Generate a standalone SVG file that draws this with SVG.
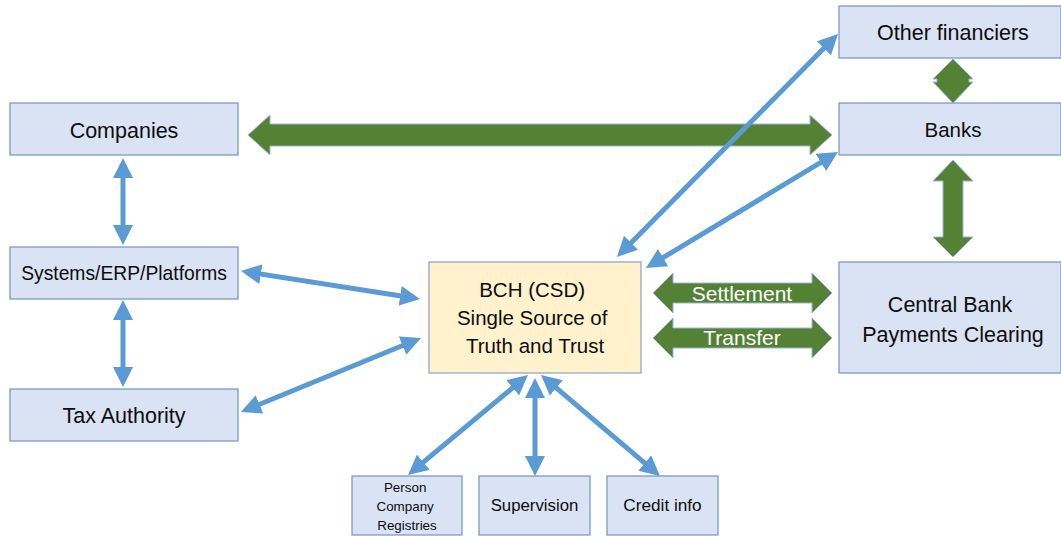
<svg xmlns="http://www.w3.org/2000/svg" width="1061" height="536" viewBox="0 0 1061 536">
  <style>
    .box { fill: #dae3f3; stroke: #7393c4; stroke-width: 1.2; }
    .core { fill: #fff2cc; stroke: #8a9fbe; stroke-width: 1.2; }
    .lbl { font-family: "Liberation Sans", Arial, sans-serif; fill: #0d0d0d; text-anchor: middle; }
    .flow { fill: #548235; stroke: #9fb4d6; stroke-width: 1; }
    .flowtxt { font-family: "Liberation Sans", Arial, sans-serif; fill: #ffffff; text-anchor: middle; font-size: 21px; }
    .link { stroke: #5b9bd5; stroke-width: 5; fill: none; marker-start: url(#tip); marker-end: url(#tip); }
  </style>
  <defs>
    <marker id="tip" viewBox="0 0 10 10" refX="7" refY="5" markerWidth="4" markerHeight="4" orient="auto-start-reverse">
      <path d="M0,0 L10,5 L0,10 z" fill="#5b9bd5"/>
    </marker>
  </defs>
  <rect width="1061" height="536" fill="#ffffff"/>

  <!-- connectors -->
  <g id="connectors">
    <!-- green flows -->
    <polygon class="flow" points="248,135 270,115 270,124 810,124 810,115 832,135 810,155 810,146 270,146 270,155"/>
    <polygon class="flow" points="953,59 973,79 969,79 969,82 973,82 953,103 933,82 937,82 937,79 933,79"/>
    <polygon class="flow" points="953,160 973,181 963,181 963,237 973,237 953,257 933,237 943,237 943,181 933,181"/>
    <polygon class="flow" points="653,293 673,273 673,283 812,283 812,273 832,293 812,313 812,303 673,303 673,313"/>
    <text class="flowtxt" x="742" y="301" font-size="22">Settlement</text>
    <polygon class="flow" points="653,338 673,318 673,328 812,328 812,318 832,338 812,358 812,348 673,348 673,358"/>
    <text class="flowtxt" x="742" y="345">Transfer</text>

    <!-- blue data links -->
    <line class="link" x1="123" y1="164" x2="123" y2="239"/>
    <line class="link" x1="123" y1="306" x2="123" y2="381"/>
    <line class="link" x1="247" y1="272" x2="414" y2="298"/>
    <line class="link" x1="246.5" y1="409.7" x2="415.5" y2="340.3"/>
    <line class="link" x1="621.2" y1="252.7" x2="833.8" y2="38.3"/>
    <line class="link" x1="651.1" y1="264.9" x2="832.9" y2="155.1"/>
    <line class="link" x1="523.4" y1="378.8" x2="412.6" y2="471.2"/>
    <line class="link" x1="535" y1="384" x2="535" y2="470"/>
    <line class="link" x1="545.6" y1="378.9" x2="655.4" y2="472.1"/>
  </g>

  <g id="companies">
    <rect class="box" x="10" y="103" width="228" height="52"/>
    <text class="lbl" x="124" y="138" font-size="21.5">Companies</text>
  </g>
  <g id="systems">
    <rect class="box" x="10" y="247" width="228" height="52"/>
    <text class="lbl" x="124" y="280" font-size="19.3">Systems/ERP/Platforms</text>
  </g>
  <g id="tax">
    <rect class="box" x="10" y="389" width="228" height="52"/>
    <text class="lbl" x="124" y="423" font-size="21.5">Tax Authority</text>
  </g>
  <g id="bch">
    <rect class="core" x="429" y="262" width="212" height="111"/>
    <text class="lbl" font-size="20.5">
      <tspan x="535" y="297">BCH (CSD)</tspan>
      <tspan x="535" y="325">Single Source of</tspan>
      <tspan x="535" y="353">Truth and Trust</tspan>
    </text>
  </g>
  <g id="other-financiers">
    <rect class="box" x="839" y="6" width="222" height="52"/>
    <text class="lbl" x="953" y="40" font-size="21.5">Other financiers</text>
  </g>
  <g id="banks">
    <rect class="box" x="839" y="103" width="222" height="52"/>
    <text class="lbl" x="953" y="137" font-size="20.5">Banks</text>
  </g>
  <g id="central-bank">
    <rect class="box" x="839" y="262" width="222" height="111"/>
    <text class="lbl" font-size="21.5">
      <tspan x="953" y="312">Central Bank</tspan>
      <tspan x="953" y="342">Payments Clearing</tspan>
    </text>
  </g>
  <g id="registries">
    <rect class="box" x="352" y="476" width="110" height="59"/>
    <text class="lbl" font-size="13.4">
      <tspan x="407" y="492">Person</tspan>
      <tspan x="407" y="511">Company</tspan>
      <tspan x="407" y="530">Registries</tspan>
    </text>
  </g>
  <g id="supervision">
    <rect class="box" x="479" y="476" width="111" height="59"/>
    <text class="lbl" x="534.5" y="511" font-size="16.8">Supervision</text>
  </g>
  <g id="credit-info">
    <rect class="box" x="607" y="476" width="111" height="59"/>
    <text class="lbl" x="662.5" y="511" font-size="17.2">Credit info</text>
  </g>
</svg>
